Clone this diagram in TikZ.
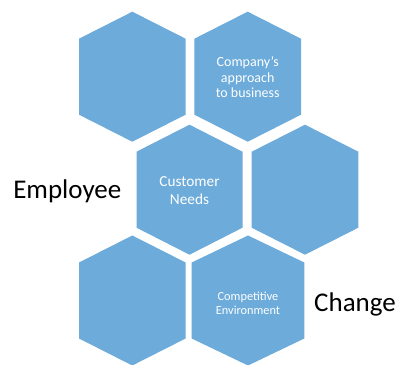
\documentclass[tikz,border=0pt]{standalone}
\usepackage{fontspec}
\setmainfont{Carlito}
\definecolor{hexblue}{RGB}{108,171,218}
\begin{document}
\begin{tikzpicture}[x=1pt,y=-1pt,
  hexfill/.style={fill=hexblue,draw=none},
  hextext/.style={text=white,align=center,inner sep=0pt},
  bigword/.style={text=black,inner sep=0pt,font=\fontsize{27}{30}\selectfont}]
\useasboundingbox (0,0) rectangle (401,364);
\clip (0,0) rectangle (401,364);
% hexagons: cx, cy, half width
\foreach \cx/\cy/\hw in {132.3/76.7/53.3, 247.7/76.7/53.3, 189.5/189.7/53, 305/189.7/53.3, 132.3/300.5/53.3, 248/300.5/56.3}{
  \fill[hexfill] (\cx,\cy-65) -- (\cx+\hw,\cy-38) -- (\cx+\hw,\cy+38) -- (\cx,\cy+65)
    -- (\cx-\hw,\cy+38) -- (\cx-\hw,\cy-38) -- cycle;
}
\node[hextext,font=\fontsize{14}{15.5}\selectfont] (company) at (247.7,77.5) {Company’s\\approach\\to business};
\node[hextext,font=\fontsize{15.3}{17.6}\selectfont] (customer) at (189.5,190.5) {Customer\\Needs};
\node[hextext,font=\fontsize{12.3}{14.3}\selectfont] (competitive) at (248,303) {Competitive\\Environment};
\node[bigword] (employee) at (67.3,191.5) {Employee};
\node[bigword] (change) at (355,304) {Change};
\end{tikzpicture}
\end{document}
